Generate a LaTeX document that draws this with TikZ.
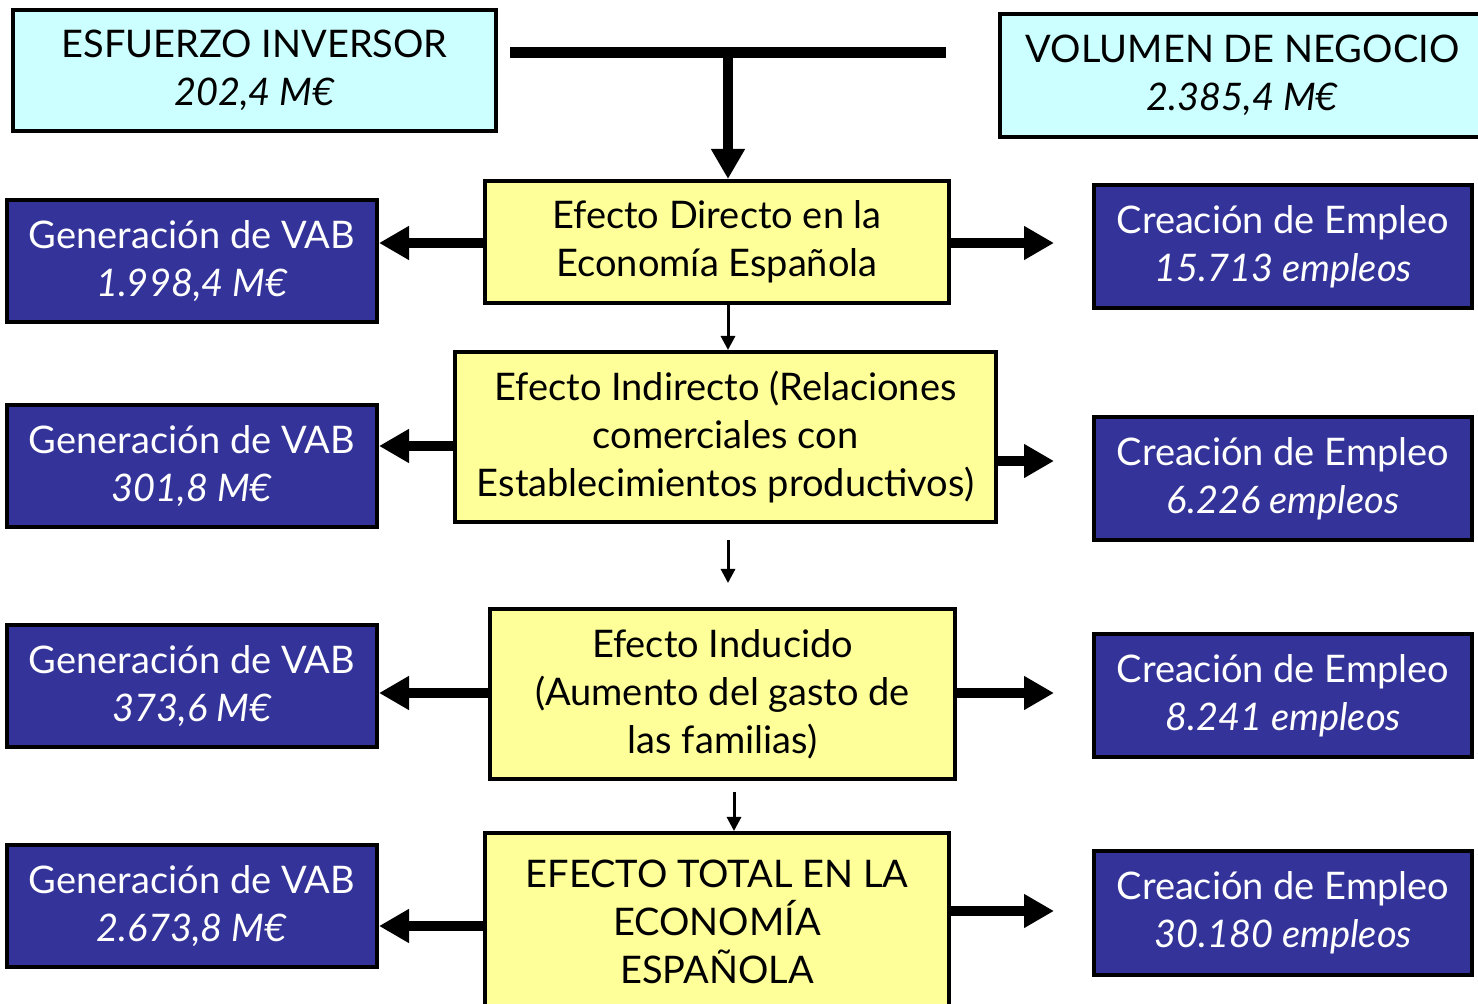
\documentclass[tikz,border=0pt]{standalone}
\usepackage{fontspec}
\setmainfont{Lato}
\usetikzlibrary{arrows.meta}
\definecolor{celeste}{HTML}{CCFFFF}
\definecolor{amarillo}{HTML}{FFFF99}
\definecolor{azul}{HTML}{333399}
\begin{document}
\begin{tikzpicture}[x=0.5pt, y=-0.5pt]
    % Estilos de los nodos
    \tikzstyle{dato}=[rectangle, draw, fill=celeste, text=black, align=center, line width=2pt, inner sep=0pt, font=\fontsize{19}{24}\selectfont]
    \tikzstyle{efecto}=[rectangle, draw, fill=amarillo, text=black, align=center, line width=2pt, inner sep=0pt, font=\fontsize{19}{24}\selectfont]
    \tikzstyle{resultado}=[rectangle, draw, fill=azul, text=white, align=center, line width=2pt, inner sep=0pt, font=\fontsize{19}{24}\selectfont]
    \tikzstyle{flecha}=[-{Triangle[width=16pt, length=15pt]}, line width=5pt]
    \tikzstyle{flechita}=[-{Triangle[width=7pt, length=7pt]}, line width=1.5pt]

    \useasboundingbox (0,0) rectangle (1478,1004);

    % Datos de partida
    \node[dato, minimum width=241.5pt, minimum height=60.5pt] (inversor) at (254.5,70.5) {ESFUERZO INVERSOR\\\textit{202,4 M€}};
    \node[dato, minimum width=242.5pt, minimum height=61.5pt] (negocio) at (1242.5,75.5) {VOLUMEN DE NEGOCIO\\\textit{2.385,4 M€}};

    % Efectos
    \node[efecto, minimum width=232pt, minimum height=61pt] (directo) at (717,242) {Efecto Directo en la\\Economía Española};
    \node[efecto, minimum width=270.5pt, minimum height=85pt] (indirecto) at (725.5,437) {Efecto Indirecto (Relaciones\\comerciales con\\Establecimientos productivos)};
    \node[efecto, minimum width=232.5pt, minimum height=85pt] (inducido) at (722.5,694) {Efecto Inducido\\(Aumento del gasto de\\las familias)};
    \node[efecto, minimum width=232pt, minimum height=88.5pt] (total) at (717,921.5) {EFECTO TOTAL EN LA\\ECONOMÍA\\ESPAÑOLA};

    % Generacion de VAB
    \node[resultado, minimum width=185pt, minimum height=61pt] (vab1) at (192,261) {Generación de VAB\\\textit{1.998,4 M€}};
    \node[resultado, minimum width=185pt, minimum height=61pt] (vab2) at (192,466) {Generación de VAB\\\textit{301,8 M€}};
    \node[resultado, minimum width=185pt, minimum height=61pt] (vab3) at (192,686) {Generación de VAB\\\textit{373,6 M€}};
    \node[resultado, minimum width=185pt, minimum height=61pt] (vab4) at (192,906) {Generación de VAB\\\textit{2.673,8 M€}};

    % Creacion de empleo
    \node[resultado, minimum width=189pt, minimum height=61.5pt] (empleo1) at (1283,246.5) {Creación de Empleo\\\textit{15.713 empleos}};
    \node[resultado, minimum width=189pt, minimum height=61.5pt] (empleo2) at (1283,479) {Creación de Empleo\\\textit{6.226 empleos}};
    \node[resultado, minimum width=189pt, minimum height=61.5pt] (empleo3) at (1283,696) {Creación de Empleo\\\textit{8.241 empleos}};
    \node[resultado, minimum width=189pt, minimum height=61.5pt] (empleo4) at (1283,913) {Creación de Empleo\\\textit{30.180 empleos}};

    % Barra superior y flecha al efecto directo
    \coordinate (barraIzq) at (510,53);
    \coordinate (barraDer) at (946,53);
    \coordinate (barraMed) at (728,53);
    \draw[line width=5.5pt] (barraIzq) -- (barraDer);
    \draw[flecha] (barraMed) -- (barraMed |- directo.north);

    % Flechas entre efectos
    \coordinate (baja1) at (728,303);
    \coordinate (baja2) at (728,540);
    \coordinate (baja3) at (734,792);
    \draw[flechita] (baja1) -- (baja1 |- indirecto.north);
    \draw[flechita] (baja2) -- (728,583);
    \draw[flechita] (baja3) -- (baja3 |- total.north);

    % Flechas hacia el VAB
    \draw[flecha] (directo.west |- 0,243) -- (vab1.east |- 0,243);
    \draw[flecha] (indirecto.west |- 0,446) -- (vab2.east |- 0,446);
    \draw[flecha] (inducido.west |- 0,693) -- (vab3.east |- 0,693);
    \draw[flecha] (total.west |- 0,926) -- (vab4.east |- 0,926);

    % Flechas hacia el empleo
    \draw[flecha, shorten >=19pt] (directo.east |- 0,243) -- (empleo1.west |- 0,243);
    \draw[flecha, shorten >=19pt] (indirecto.east |- 0,461) -- (empleo2.west |- 0,461);
    \draw[flecha, shorten >=19pt] (inducido.east |- 0,693) -- (empleo3.west |- 0,693);
    \draw[flecha, shorten >=19pt] (total.east |- 0,911) -- (empleo4.west |- 0,911);
\end{tikzpicture}
\end{document}
